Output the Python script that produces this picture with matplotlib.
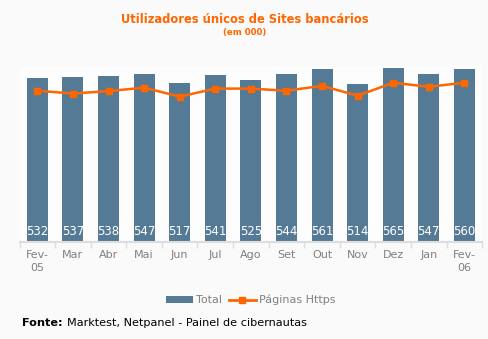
import matplotlib.pyplot as plt
from matplotlib.lines import Line2D
from matplotlib.patches import Patch

months = ['Fev-\n05', 'Mar', 'Abr', 'Mai', 'Jun', 'Jul', 'Ago', 'Set', 'Out', 'Nov', 'Dez', 'Jan', 'Fev-\n06']
total = [532, 537, 538, 547, 517, 541, 525, 544, 561, 514, 565, 547, 560]
https = [491, 482, 490, 501, 472, 498, 498, 491, 507, 475, 517, 504, 517]

bar_color = '#557a95'
line_color = '#ff6600'
text_gray = '#808080'

fig = plt.figure(figsize=(4.89, 3.39), dpi=100, facecolor='#fafafa')
ax = fig.add_axes([0.040, 0.286, 0.946, 0.519])
ax.set_facecolor('#fdfdfd')

x = list(range(len(months)))
ax.bar(x, total, width=0.59, color=bar_color, zorder=2)
ax.plot(x, https, color=line_color, lw=1.8, marker='s', ms=5, zorder=3)

for xi, v in zip(x, total):
    ax.text(xi, 34, str(v), color='white', ha='center', va='center', fontsize=8.5, zorder=4)

ax.set_xlim(-0.5, 12.5)
ax.set_ylim(0, 571)
ax.set_yticks([])
ax.set_xticks(x)
ax.set_xticklabels(months, color=text_gray, fontsize=8, linespacing=1.35)
ax.set_xticks([i - 0.5 for i in range(len(months) + 1)], minor=True)
ax.tick_params(axis='x', which='major', length=0, pad=6)
ax.tick_params(axis='x', which='minor', length=4, color='#dddddd', width=1)
for side in ['top', 'right', 'left']:
    ax.spines[side].set_visible(False)
ax.spines['bottom'].set_color('#dddddd')
ax.spines['bottom'].set_linewidth(1.5)

fig.text(0.5, 0.942, 'Utilizadores únicos de Sites bancários', color=line_color,
         fontsize=8.3, fontweight='bold', ha='center', va='center')
fig.text(0.5, 0.903, '(em 000)', color=line_color, fontsize=6.2, fontweight='bold',
         ha='center', va='center')

handles = [Patch(facecolor=bar_color),
           Line2D([0], [0], color=line_color, lw=2, marker='s', ms=5)]
fig.legend(handles, ['Total', 'Páginas Https'], loc='center', bbox_to_anchor=(0.513, 0.115),
           ncol=2, frameon=False, fontsize=8, labelcolor=text_gray, handlelength=2.4,
           handleheight=0.6, handletextpad=0.3, columnspacing=0.6)

fig.text(0.045, 0.048, 'Fonte:', fontsize=8.1, fontweight='bold', ha='left', va='center')
fig.text(0.137, 0.048, 'Marktest, Netpanel - Painel de cibernautas', fontsize=8.15,
         ha='left', va='center')

fig.savefig('out.png', dpi=100, facecolor=fig.get_facecolor())
